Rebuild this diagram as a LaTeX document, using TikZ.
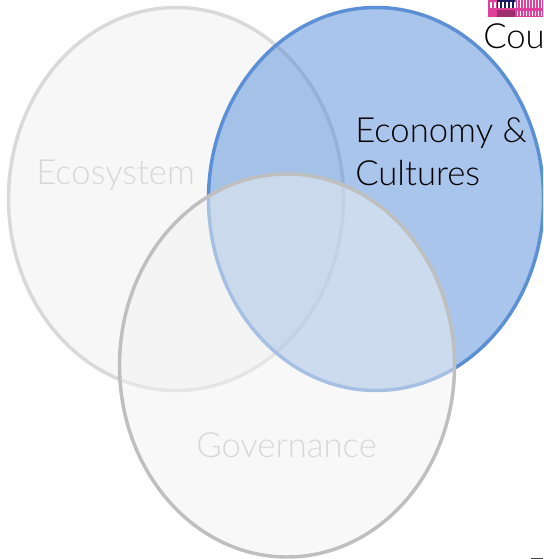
\documentclass[tikz,border=0pt]{standalone}
\usepackage{fontspec}
\setmainfont{Lato Light}
\definecolor{ecofill}{HTML}{F2F2F2}
\definecolor{ecoline}{HTML}{D9D9D9}
\definecolor{econfill}{HTML}{4A86D8}
\definecolor{econline}{HTML}{5B8FD6}
\definecolor{govline}{HTML}{BFBFBF}
\definecolor{palelabel}{HTML}{D8D8D8}
\definecolor{glitchpink}{HTML}{E0409C}
\definecolor{glitchnavy}{HTML}{1A1A60}
\tikzset{
  venntext/.style={font=\fontsize{26}{32}\selectfont, inner sep=0pt},
  palelabel/.style={venntext, text=palelabel}
}
\begin{document}
\begin{tikzpicture}[x=0.75pt, y=-0.75pt]
  % Canvas of the reference, in pixels
  \def\vennrx{167.5}
  \def\vennry{191.5}
  \useasboundingbox (0,0) rectangle (543,559);
  \clip (0,0) rectangle (543,559);
  \fill[white] (0,0) rectangle (543,559);

  % Three overlapping ellipses
  \draw[line width=2.6pt, ecoline, fill=ecofill, fill opacity=0.6] (176,199) ellipse ({\vennrx} and {\vennry});
  \draw[line width=2.6pt, econline, fill=econfill, fill opacity=0.475] (376,199) ellipse ({\vennrx} and {\vennry});
  \draw[line width=2.6pt, govline, fill=ecofill, fill opacity=0.5] (287,365.5) ellipse ({\vennrx} and {\vennry});

  % Labels
  \node[palelabel, anchor=base west] (ecosystem) at (36,185) {Ecosystem};
  \node[palelabel, anchor=base west] (governance) at (196,457) {Governance};
  \node[venntext, anchor=base west] (economy) at (355,143) {Economy \&};
  \node[venntext, anchor=base west] (cultures) at (355,186) {Cultures};
  \node[venntext, anchor=base west] (country) at (483,49) {Cou};

  % Broken picture at the top right edge
  \fill[glitchpink] (488,0) rectangle (543,17);
  \fill[glitchnavy] (497,0) rectangle (515,8);
  \fill[glitchpink!70!black] (497,10) rectangle (515,17);
  \foreach \tickx in {490,494,...,514} {
    \fill[white] (\tickx,2) rectangle ++(1.5,6);
  }
  \foreach \tickx in {517,520,...,541} {
    \fill[white] (\tickx,0) rectangle ++(1,8);
    \fill[white] (\tickx,11) rectangle ++(1,5);
  }

  % Speck at the bottom right edge
  \fill[black!75] (531,558) rectangle (543,559);
\end{tikzpicture}
\end{document}
